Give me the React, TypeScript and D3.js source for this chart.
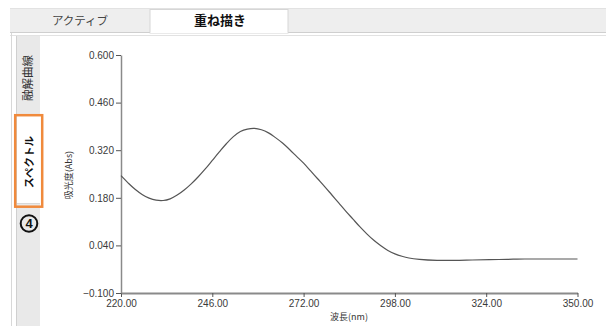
import React, { useEffect, useRef } from "react";
import * as d3 from "d3";

const wavelengths = [220, 222, 224, 226, 228, 230, 232, 234, 236, 238, 240, 242, 244, 246, 248, 250, 252, 254, 256, 258, 260, 262, 264, 266, 268, 270, 272, 274, 276, 278, 280, 282, 284, 286, 288, 290, 292, 294, 296, 298, 300, 302, 305, 310, 315, 320, 325, 330, 335, 340, 345, 350];
const absorbance = [0.245, 0.224, 0.205, 0.190, 0.179, 0.173, 0.172, 0.177, 0.188, 0.203, 0.221, 0.242, 0.265, 0.290, 0.315, 0.339, 0.360, 0.375, 0.382, 0.384, 0.380, 0.371, 0.357, 0.341, 0.322, 0.302, 0.282, 0.259, 0.236, 0.213, 0.189, 0.165, 0.141, 0.118, 0.095, 0.074, 0.055, 0.039, 0.025, 0.015, 0.008, 0.003, -0.001, -0.004, -0.004, -0.003, -0.002, -0.001, 0.000, 0.000, 0.000, 0.000];
const xTicks = [220, 246, 272, 298, 324, 350];
const yTicks = [-0.1, 0.04, 0.18, 0.32, 0.46, 0.6];
const topTabs = ["アクティブ", "重ね描き"];
const sideTabs = ["融解曲線", "スペクトル"];
const xLabel = "波長(nm)";
const yLabel = "吸光度(Abs)";

const W = 606;
const H = 326;

export default function App() {
  const axRef = useRef<SVGGElement>(null);
  const x = d3.scaleLinear().domain([220, 350]).range([121, 577.5]);
  const y = d3.scaleLinear().domain([-0.1, 0.6]).range([293, 55]);

  useEffect(() => {
    const g = d3.select(axRef.current);
    g.selectAll("*").remove();
    const xa = g.append("g").attr("transform", "translate(0,293)")
      .call(d3.axisBottom(x).tickValues(xTicks).tickFormat(d3.format(".2f")).tickSize(4).tickPadding(3).tickSizeOuter(0));
    xa.select(".domain").attr("stroke", "#8a8a8a").attr("stroke-width", 2);
    xa.selectAll(".tick line").attr("stroke", "#555");
    xa.selectAll(".tick text").attr("fill", "#3a3a3a").attr("font-size", 10).attr("font-family", "Liberation Sans, Arial, sans-serif");
    const ya = g.append("g").attr("transform", "translate(121,0)")
      .call(d3.axisLeft(y).tickValues(yTicks).tickFormat(d3.format(".3f")).tickSize(5).tickPadding(2).tickSizeOuter(0));
    ya.select(".domain").attr("stroke", "#8a8a8a").attr("stroke-width", 1.5);
    ya.selectAll(".tick line").attr("stroke", "#555");
    ya.selectAll(".tick text").attr("fill", "#3a3a3a").attr("font-size", 10).attr("font-family", "Liberation Sans, Arial, sans-serif");
  }, []);

  const pts: [number, number][] = wavelengths.map((w, i) => [w, absorbance[i]]);
  const line = d3.line<[number, number]>().x(d => x(d[0])).y(d => y(d[1])).curve(d3.curveCatmullRom);

  const jp = "'Noto Sans CJK JP', sans-serif";

  return (
    <svg width={W} height={H} style={{ position: "fixed", left: 0, top: 0, background: "#fff" }}>
      <rect x={0} y={0} width={W} height={H} fill="#fff" />
      {/* top tab strip */}
      <rect x={10} y={8} width={W - 10} height={25} fill="#eeeeee" />
      <line x1={10} x2={W} y1={8.5} y2={8.5} stroke="#e2e2e2" />
      <line x1={10} x2={W} y1={32.5} y2={32.5} stroke="#cfcfcf" />
      <line x1={10} x2={W} y1={35.5} y2={35.5} stroke="#e2e2e2" />
      <rect x={150} y={9.5} width={138} height={23.5} fill="#fff" stroke="#d6d6d6" />
      <line x1={150.5} x2={287.5} y1={32.5} y2={32.5} stroke="#fff" />
      <text x={80} y={25} textAnchor="middle" fontSize={11.5} fill="#444" fontFamily={jp}>{topTabs[0]}</text>
      <text x={220} y={25} textAnchor="middle" fontSize={13} fill="#111" fontWeight="bold" fontFamily={jp}>{topTabs[1]}</text>
      {/* left side */}
      <line x1={11.5} x2={11.5} y1={33} y2={H} stroke="#d8d8d8" />
      <rect x={17} y={36} width={23} height={H - 36} fill="#e9e9e9" />
      <line x1={16.5} x2={16.5} y1={36} y2={H} stroke="#d0d0d0" />
      <text transform="translate(32,78) rotate(-90)" textAnchor="middle" fontSize={11.5} fill="#333" fontFamily={jp}>{sideTabs[0]}</text>
      <rect x={17} y={116} width={23} height={88} fill="#fff" />
      <line x1={17} x2={40} y1={203.5} y2={203.5} stroke="#d8d8d8" />
      <text transform="translate(32.5,162) rotate(-90)" textAnchor="middle" fontSize={10.5} fill="#111" fontWeight="bold" fontFamily={jp}>{sideTabs[1]}</text>
      <rect x={15.2} y={115.2} width={27} height={91.5} fill="none" stroke="#f08a3c" strokeWidth={2.5} />
      <circle cx={29} cy={223.5} r={8.3} fill="none" stroke="#111" strokeWidth={2} />
      <text x={29} y={228.3} textAnchor="middle" fontSize={13} fill="#111" fontWeight="bold" fontFamily="Liberation Sans, Arial, sans-serif">4</text>
      {/* axes labels */}
      <text transform="translate(72,175) rotate(-90)" textAnchor="middle" fontSize={9} fill="#333" fontFamily={jp}>{yLabel}</text>
      <text x={349} y={320} textAnchor="middle" fontSize={9} fill="#333" fontFamily={jp}>{xLabel}</text>
      <g ref={axRef} />
      <path d={line(pts) || ""} fill="none" stroke="#555" strokeWidth={1.2} />
    </svg>
  );
}
